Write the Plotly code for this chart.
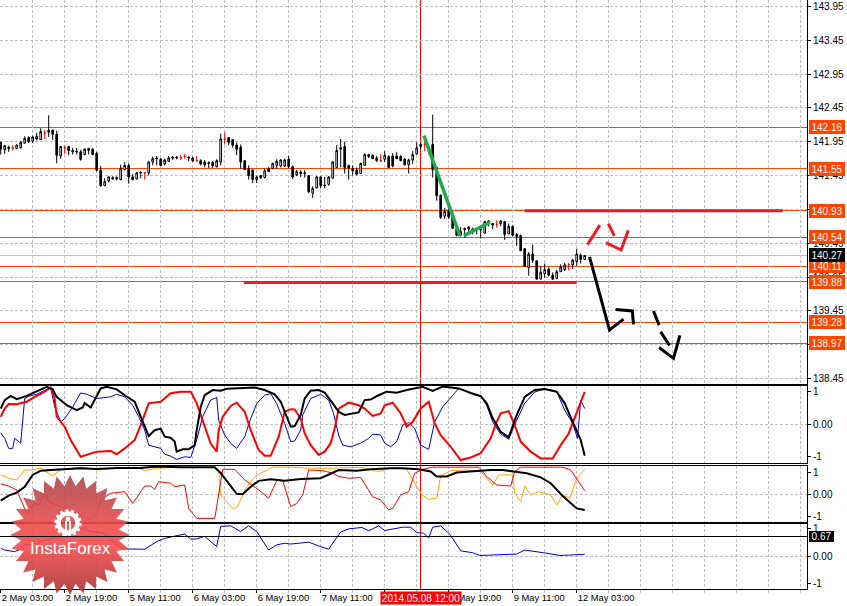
import base64, math
import plotly.graph_objects as go
from plotly.subplots import make_subplots

W, H = 847, 606
AXIS_X = 807
FONT = "Liberation Sans"
FS = 10

# ---- candles (hourly bars, index = bar number) ----
opens = [
141.94,141.83,141.87,141.86,141.85,141.86,141.93,142.01,141.96,142.03,
141.98,142.08,142.12,142.12,142.06,141.74,141.86,141.88,141.82,141.81,
141.80,141.76,141.85,141.84,141.78,141.53,141.30,141.37,141.42,141.42,
141.39,141.54,141.60,141.43,141.40,141.50,141.49,141.49,141.65,141.71,
141.69,141.62,141.66,141.72,141.72,141.71,141.73,141.72,141.71,141.67,
141.67,141.65,141.64,141.65,141.58,141.65,141.99,142.01,141.98,141.90,
141.87,141.67,141.55,141.53,141.39,141.45,141.42,141.55,141.55,141.60,
141.59,141.59,141.69,141.58,141.46,141.50,141.49,141.45,141.19,141.27,
141.43,141.31,141.32,141.41,141.57,141.84,141.88,141.60,141.55,141.53,
141.48,141.60,141.76,141.75,141.71,141.67,141.69,141.73,141.74,141.74,
141.73,141.69,141.61,141.68,141.77,141.91,141.91,141.81,141.91,141.57,
141.16,140.85,140.93,140.84,140.66,140.57,140.65,140.69,140.66,140.66,
140.66,140.60,140.74,140.74,140.73,140.74,140.77,140.59,140.70,140.58,
140.56,140.37,140.09,140.29,140.19,139.92,140.00,140.07,139.98,139.93,
140.03,140.06,140.13,140.13,140.18,140.27,140.21]
highs = [
141.95,141.90,141.89,141.90,141.91,141.96,142.03,142.03,142.04,142.08,
142.15,142.12,142.34,142.13,142.11,141.88,141.89,141.88,141.86,141.86,
141.83,141.85,141.86,141.85,141.80,141.59,141.41,141.44,141.44,141.44,
141.61,141.65,141.63,141.47,141.50,141.51,141.50,141.66,141.73,141.74,
141.71,141.70,141.74,141.74,141.74,141.75,141.77,141.74,141.73,141.74,
141.69,141.68,141.66,141.66,141.69,142.07,142.09,142.02,141.99,141.94,
141.91,141.67,141.60,141.54,141.45,141.46,141.55,141.58,141.64,141.69,
141.69,141.70,141.74,141.60,141.53,141.53,141.53,141.45,141.29,141.44,
141.44,141.43,141.44,141.66,141.90,141.99,141.95,141.61,141.60,141.57,
141.64,141.78,141.77,141.76,141.74,141.77,141.81,141.75,141.78,141.80,
141.75,141.71,141.70,141.81,141.94,141.95,141.95,141.86,142.35,141.57,
141.17,140.97,140.97,140.93,140.68,140.69,140.68,140.70,140.68,140.68,
140.68,140.78,140.79,140.75,140.79,140.79,140.78,140.74,140.71,140.60,
140.58,140.37,140.32,140.43,140.19,140.11,140.15,140.09,140.02,140.06,
140.14,140.16,140.16,140.22,140.37,140.30,140.27]
lows = [
141.76,141.77,141.80,141.82,141.84,141.85,141.92,141.93,141.93,141.97,
141.98,141.99,142.02,141.98,141.63,141.70,141.77,141.75,141.76,141.76,
141.67,141.75,141.76,141.75,141.51,141.28,141.30,141.35,141.39,141.38,
141.38,141.53,141.33,141.38,141.39,141.41,141.39,141.45,141.60,141.60,
141.59,141.60,141.65,141.68,141.69,141.68,141.70,141.66,141.65,141.66,
141.60,141.57,141.56,141.56,141.57,141.60,141.91,141.90,141.86,141.75,
141.55,141.53,141.39,141.34,141.34,141.40,141.41,141.50,141.55,141.55,
141.57,141.58,141.56,141.40,141.44,141.43,141.42,141.19,141.12,141.26,
141.26,141.26,141.30,141.41,141.56,141.57,141.48,141.39,141.45,141.45,
141.47,141.60,141.71,141.69,141.65,141.65,141.65,141.56,141.57,141.69,
141.66,141.60,141.48,141.62,141.76,141.84,141.81,141.76,141.42,141.08,
140.81,140.81,140.81,140.66,140.55,140.55,140.53,140.58,140.58,140.58,
140.52,140.59,140.70,140.66,140.68,140.70,140.50,140.58,140.55,140.41,
140.34,140.10,139.97,140.16,139.92,139.92,139.94,139.96,139.92,139.92,
140.03,140.04,140.05,140.07,140.11,140.15,140.20]
closes = [
141.84,141.89,141.85,141.86,141.90,141.94,142.00,141.95,142.02,141.99,
142.10,142.08,142.09,142.06,141.75,141.88,141.86,141.82,141.80,141.80,
141.69,141.84,141.82,141.76,141.53,141.30,141.36,141.43,141.40,141.40,
141.56,141.60,141.43,141.39,141.49,141.49,141.49,141.65,141.70,141.70,
141.60,141.68,141.71,141.71,141.71,141.71,141.73,141.71,141.67,141.67,
141.62,141.61,141.63,141.60,141.67,141.99,141.99,141.94,141.90,141.84,
141.65,141.54,141.45,141.39,141.43,141.42,141.52,141.51,141.63,141.66,
141.68,141.68,141.58,141.43,141.51,141.48,141.48,141.21,141.26,141.43,
141.30,141.30,141.43,141.65,141.82,141.86,141.57,141.56,141.52,141.47,
141.63,141.76,141.73,141.70,141.67,141.67,141.75,141.57,141.59,141.70,
141.67,141.61,141.68,141.76,141.86,141.88,141.91,141.81,141.54,141.15,
140.83,140.92,140.84,140.67,140.57,140.62,140.67,140.66,140.65,140.65,
140.65,140.77,140.78,140.72,140.73,140.78,140.58,140.70,140.57,140.55,
140.34,140.11,140.29,140.20,139.92,140.02,140.06,139.98,139.92,140.03,
140.10,140.13,140.13,140.20,140.29,140.21,140.27]

# ---- axis text ----
price_ticks = [143.95,143.45,142.95,142.45,141.95,141.45,140.95,140.45,139.95,139.45,138.95,138.45]
date_bars = [0,16,32,48,64,80,96,112,128,144]
date_labels = ["2 May 03:00","2 May 19:00","5 May 11:00","6 May 03:00","6 May 19:00",
               "7 May 11:00","8 May 03:00","8 May 19:00","9 May 11:00","12 May 03:00"]
minor_bars = [8,24,40,56,72,88,104,120,136,152,160,168,176,184,192,200]
cursor_bar = 105
cursor_label = "2014.05.08 12:00"

# ---- horizontal levels ----
orange_levels = [142.16,141.55,140.93,140.54,140.11,139.88,139.28,138.97]
last_price = 140.27

# ---- drawn lines: (bar, price), None = gap ----
green_bars   = [105.8,114.8,None,115.8,122.3]
green_prices = [142.04,140.56,None,140.56,140.76]
red_line_bars   = [131,195.5,None,60.8,144]
red_line_prices = [140.93,140.93,None,139.87,139.87]
red_arrow_bars   = [146.7,149.8,None,151.9,153.4,None,151.3,155.1,156.9]
red_arrow_prices = [140.43,140.72,None,140.74,140.56,None,140.46,140.35,140.64]
black_arrow_bars   = [147.2,152.2,155.7,None,153.7,157.9,158.2,None,163.2,164.6,None,165,167.2,None,164.6,168.2,169.8]
black_arrow_prices = [140.25,139.17,139.33,None,139.47,139.45,139.25,None,139.45,139.24,None,139.14,138.94,None,138.91,138.75,139.09]

# ---- indicator 1 ----
ind1_black_x = [0,1,2.5,4,6.5,8.5,10.5,11.5,13,14,16.5,19,20.5,21,22.5,24,25,26.5,29,31,33.5,35,37,38.5,40,41,42.5,43.5,44,45.5,47,48.5,49,50,51,53,55,56.5,60,63.5,66,68.5,70,71.5,72.5,73.5,75,76,77.5,79.5,81,83,84.5,86,87.5,89.5,91,92.5,94.5,96.5,99,101.5,105.5,108,110.5,114.5,117.5,120,121.5,123,125,127,129,131,133.5,136,139,141,143,145,146]
ind1_black_y = [.49,.75,.88,.78,.88,.99,1.11,1.16,1.08,.85,.59,.44,.52,.66,.52,.90,1.11,1.16,1.08,.90,.70,.24,-.36,-.18,-.13,-.38,-.41,-.53,-.84,-.77,-.77,-.64,-.18,.54,.90,1.06,1.04,1.10,1.13,1.14,1.06,.93,.70,.24,-.07,-.05,.29,.80,1.04,1.06,.98,.65,.39,.29,.32,.37,.75,.77,.90,1.01,.98,1.06,1.16,1.03,1.17,1.11,.97,.87,.65,.19,-.23,-.40,.29,.85,1.06,1.09,1.01,.65,.08,-.48,-.97]
ind1_red_x = [0,1,2,4,6.5,8.5,10.5,12.5,13.5,14,16,17.5,20,21.5,24,27.5,29,31,33.5,35,37,40,42.5,45,47.5,49,50,51,52.5,54,54.5,55.5,57.5,59,61,62.5,64.5,66,67.5,69.5,71,72.5,73.5,75,76,77.5,79.5,81,82.5,83.5,84.5,87,89.5,91,93,95,96,98,100,101.5,103,105,107,108.5,110,112.5,115,117.5,120,122.5,124,125,127,128.5,130,132.5,135,138,140,142,144,146]
ind1_red_y = [.23,.49,.63,.62,.70,.85,.97,1.14,.80,.24,-.07,-.48,-1.0,-.94,-.84,-.82,-.92,-.74,-.48,-.02,.65,.70,.96,1.01,1.01,.65,.29,-.02,-.59,-.84,-.18,.24,.57,.67,.39,-.18,-.79,-.97,-.97,-.38,.39,.47,.46,.18,-.28,-.64,-.94,-.84,-.58,-.12,.49,.67,.59,.49,.26,.34,.59,.67,.34,-.07,.08,.49,.70,.03,-.33,-.69,-1.10,-1.02,-.89,-.43,.08,.34,.41,-.02,-.53,-.84,-1.05,-1.05,-.64,-.28,.39,1.0]
ind1_blue_x = [0,1,2,3,3.5,5,6,7,9,11,12.5,13.5,15,16,18,20,21.5,24,27.5,29,31,33,34.5,36,37,38.5,40,41,42.5,44,46,47.5,49,50.5,52.5,54,54.5,56,57.5,59,61,62.5,64,66,67.5,69,71,72.5,73.5,75,75.5,77.5,80,82,83.2,84.5,85.5,87.5,90,92,93,95,96,97.5,99,100.5,102,103.5,105,107,108.5,110.5,114.5,117.5,120,121.5,123,125,127,129,131,133.5,136,139,141,143,144.2,145,146]
ind1_blue_y = [-.26,-.43,-.74,-.74,-.43,-.58,.80,.87,.93,1.06,1.14,.54,.08,.18,.54,.97,.93,.80,.85,.93,.85,.59,.24,-.17,-.64,-.69,-.74,-.92,-.98,-1.08,-1.0,-1.02,-.48,.24,.75,.83,.13,-.33,-.58,-.74,-.38,.18,.64,.90,.95,.64,.03,-.53,-.51,-.17,.29,.80,.93,.75,.34,-.33,-.64,-.69,-.58,-.43,-.30,-.33,-.58,-.69,-.53,-.02,.06,-.12,-.64,-.77,.08,.54,1.11,.97,.87,.59,.08,-.30,-.45,.13,.65,1.0,1.09,1.01,.44,.03,-.43,.75,.49]

# ---- indicator 2 ----
ind2_black_x = [0,2,4,6,8,10,12.5,16,20,24,29,35,39,45,53.5,55,57,59,60.5,62.5,64.5,67.5,71,72.5,75,80,83,84.5,89,92.5,97.5,100.5,104.5,107.5,109,111.5,114,119,122.5,125.5,128,131.5,135,137.5,140.5,144,146]
ind2_black_y = [-.29,-.06,.08,.35,.89,1.09,1.12,1.15,1.20,1.17,1.21,1.21,1.28,1.25,1.25,.98,.51,.02,0,.35,.62,.69,.62,.66,.71,.74,1.0,1.12,1.09,1.15,1.20,1.20,1.15,1.05,.82,.82,1.0,1.09,1.12,1.12,1.05,.97,.78,.51,-.08,-.65,-.72]
ind2_red_x = [0,2,4,5.5,6.5,8.5,9.5,11,12,14.5,17.5,21,22.5,24,25,27.5,31,33,36,37.5,38.5,39.5,42.5,43.5,46,47,49,53.5,54,55.5,58.5,61,64.5,67,69,70.5,72.5,74,75.5,77,80.5,83,84.5,87,90,93,95,97,98,100,102,103.5,105.5,108,112,119.5,121.5,124,127.5,128.5,130,140.5,142.5,144.5,146]
ind2_red_y = [.48,.38,.20,-.42,-.88,-.42,-.49,.02,-.34,-.54,-.75,-1.03,-1.15,-.88,-.26,.05,.12,-.42,.38,.38,.23,.58,.51,.35,.43,-.65,-1.11,-1.11,-.57,1.15,1.15,.66,.20,-.18,.63,.63,-.57,-.42,-.03,1.12,1.09,.97,.82,.74,.77,-.11,-.26,-.72,-.65,-.03,.12,.97,1.15,1.25,1.25,1.25,.82,.43,.38,1.05,1.25,1.25,1.12,.58,.17]
ind2_orange_x = [0,2,4,6,7.5,10,13,15,20,24,29,34,36,39,45,53.5,54.5,55,57,58,59,61.5,64,68,72.5,77.5,83,90,94.5,98,101.5,103.5,105.3,107,109,110,112.5,116.5,120,121.5,123,124.5,128,128.5,130,131,132.5,134.5,137.5,139,140.5,142.3,144,146]
ind2_orange_y = [.89,.74,.66,1.12,1.12,1.20,.85,1.12,1.25,1.12,1.20,1.25,1.09,1.20,1.25,1.25,1.12,-.03,-.45,-.65,-.62,.35,.89,1.25,1.25,1.20,1.20,1.25,1.05,1.23,1.15,.51,-.03,-.23,-.18,.85,1.09,1.12,1.05,.74,.43,.89,.89,.05,-.34,.38,-.03,.12,-.03,-.49,-.03,-.18,.74,1.15]

# ---- indicator 3 ----
ind3_blue_x = [0,1,3.5,4.5,6,8.5,11,14,16,18,21,22.5,25,26.5,28.5,30.5,36,39,41,43,46,47.5,49,51,54,55,57.5,60,62,64,67,69,71,72.5,75,77,79.5,82,83,85,87,90.3,92,94.5,96,98,100.5,102.5,104,105.7,107,108,110,112.3,115,118,119.8,129,131,135.7,139.8,146]
ind3_blue_y = [.28,.22,.16,.22,.41,.44,.59,.65,.84,.96,1.0,.90,.86,.78,.47,.26,.25,.53,.65,.72,.81,.62,.63,.72,.35,1.09,1.11,.90,1.11,.90,.22,.41,.47,.44,.47,.51,.37,.25,.47,.88,1.0,1.05,.93,1.11,.94,1.0,1.06,1.06,.86,.84,.67,1.06,1.11,.80,.19,.12,.02,.07,.22,.12,.02,.06]
ind3_level_position = 0.73
ind3_level_label = "0.67"

ORANGE = "#FF4500"
GRID = "#C0C0C0"
DASH = "3px,2px"
BLUE = "#0000CD"

# pane pixel geometry: (top, bottom, value_top, value_bottom)
panes = [(0, 384, 143.95 + 6.3/67.7, 143.95 - 377.7/67.7),
         (385.5, 463.3, 1.2, -1.2),
         (465.7, 522.3, 1.318, -1.29),
         (524.3, 588.5, 1.167, -1.196)]

fig = make_subplots(rows=4, cols=1, shared_xaxes=True)

up_down = [i for i in range(len(opens)) if opens[i] != closes[i]]
doji = [i for i in range(len(opens)) if opens[i] == closes[i]]
pick = lambda seq, idx: [seq[i] for i in idx]

fig.add_trace(go.Candlestick(
    x=up_down, open=pick(opens, up_down), high=pick(highs, up_down),
    low=pick(lows, up_down), close=pick(closes, up_down), whiskerwidth=0,
    increasing=dict(fillcolor="white", line=dict(color="black", width=1)),
    decreasing=dict(fillcolor="black", line=dict(color="black", width=1)),
    hoverinfo="skip"), row=1, col=1)
fig.add_trace(go.Candlestick(
    x=doji, open=pick(opens, doji), high=pick(highs, doji),
    low=pick(lows, doji), close=pick(closes, doji), whiskerwidth=0,
    increasing=dict(fillcolor="red", line=dict(color="red", width=1)),
    decreasing=dict(fillcolor="red", line=dict(color="red", width=1)),
    hoverinfo="skip"), row=1, col=1)

def line(x, y, color, width, row):
    fig.add_trace(go.Scatter(x=x, y=y, mode="lines", hoverinfo="skip",
                             line=dict(color=color, width=width)), row=row, col=1)

line(red_line_bars, red_line_prices, "#ED1C24", 3, 1)
line(green_bars, green_prices, "#22A850", 3.5, 1)
line(red_arrow_bars, red_arrow_prices, "#ED1C24", 3, 1)
line(black_arrow_bars, black_arrow_prices, "black", 3, 1)

line(ind1_blue_x, ind1_blue_y, BLUE, 1, 2)
line(ind1_red_x, ind1_red_y, "red", 2, 2)
line(ind1_black_x, ind1_black_y, "black", 2, 2)
line(ind2_orange_x, ind2_orange_y, "#FFA500", 1, 3)
line(ind2_red_x, ind2_red_y, "red", 1, 3)
line(ind2_black_x, ind2_black_y, "black", 2, 3)
line(ind3_blue_x, ind3_blue_y, BLUE, 1, 4)

x_range = [-0.7/4, (AXIS_X - 0.7)/4]
for n in range(1, 5):
    top, bot, vtop, vbot = panes[n-1]
    yname = "yaxis" if n == 1 else f"yaxis{n}"
    xname = "xaxis" if n == 1 else f"xaxis{n}"
    bottom = n == 4
    fig.update_layout({
        xname: dict(
            domain=[0, AXIS_X/W], range=x_range, anchor="y" if n == 1 else f"y{n}",
            automargin=False, tickangle=0,
            tickmode="array", tickvals=date_bars, ticktext=date_labels if bottom else [""]*len(date_bars),
            showticklabels=bottom, ticks="outside" if bottom else "", ticklen=3, tickcolor="black",
            ticklabelposition="outside right",
            tickfont=dict(family=FONT, size=9.4, color="black"),
            showgrid=True, gridcolor=GRID, griddash=DASH, gridwidth=1, zeroline=False,
            showline=True, linecolor="black", linewidth=1, mirror=(n > 1),
            rangeslider=dict(visible=False),
            minor=dict(tickmode="array", tickvals=minor_bars, showgrid=True, gridcolor=GRID,
                       griddash=DASH, gridwidth=1, ticks="outside" if bottom else "",
                       ticklen=3, tickcolor=GRID),
        ),
        yname: dict(
            domain=[1 - bot/H, 1 - top/H], range=[vbot, vtop], side="right",
            anchor="x" if n == 1 else f"x{n}",
            tickmode="array",
            tickvals=price_ticks if n == 1 else [1, 0, -1],
            ticktext=[f"{p:.2f}" for p in price_ticks] if n == 1 else ["1", "0.00", "-1"],
            tickfont=dict(family=FONT, size=FS, color="black"),
            ticks="outside", ticklen=3, tickcolor="black",
            showgrid=(n == 1), gridcolor=GRID, griddash=DASH, gridwidth=1, zeroline=False,
            showline=True, linecolor="black", linewidth=1, automargin=False,
        ),
    })

shapes = []
annotations = []
xp = AXIS_X / W

def box(y, yref, text, bg, x0=809, w=36, h=14):
    annotations.append(dict(x=x0/W, xref="paper", y=y, yref=yref, xanchor="left", yanchor="middle",
                            text=text, showarrow=False, bgcolor=bg, width=w, height=h, borderpad=0,
                            borderwidth=0, align="center",
                            font=dict(family=FONT, size=FS, color="white")))

for lv in orange_levels:
    shapes.append(dict(type="line", xref="paper", x0=0, x1=xp, yref="y", y0=lv, y1=lv,
                       line=dict(color=ORANGE, width=1), layer="below"))
    box(lv, "y", f"{lv:.2f}", ORANGE)
shapes.append(dict(type="line", xref="paper", x0=0, x1=xp, yref="y", y0=last_price, y1=last_price,
                   line=dict(color="#C0C0C0", width=1), layer="below"))
box(last_price, "y", f"{last_price:.2f}", "black")

for yref in ["y2", "y3", "y4"]:
    shapes.append(dict(type="line", xref="paper", x0=0, x1=xp, yref=yref, y0=0, y1=0,
                       line=dict(color=GRID, width=1, dash=DASH), layer="below"))
shapes.append(dict(type="line", xref="paper", x0=0, x1=xp, yref="y4",
                   y0=ind3_level_position, y1=ind3_level_position, line=dict(color="black", width=1)))
box(ind3_level_position, "y4", ind3_level_label, "black", w=25, h=11)

shapes.append(dict(type="line", xref="x", x0=cursor_bar, x1=cursor_bar, yref="paper",
                   y0=1 - 589/H, y1=1, line=dict(color="red", width=1), layer="below"))
annotations.append(dict(x=cursor_bar, xref="x", y=1 - 597.5/H, yref="paper", xanchor="center", yanchor="middle",
                        text=cursor_label, showarrow=False, bgcolor="red", width=80, height=12, borderpad=0,
                        font=dict(family=FONT, size=FS, color="white")))

# ---- watermark badge: semi-transparent star with a logo ----
S = 124
pts = []
SPIKES = 28
for k in range(SPIKES * 2):
    r = 60 if k % 2 == 0 else 49
    a = math.pi * k / SPIKES
    pts.append(f"{S/2 + r*math.sin(a):.1f},{S/2 - r*math.cos(a):.1f}")
svg = f'''<svg xmlns="http://www.w3.org/2000/svg" width="{S}" height="{S}" viewBox="0 0 {S} {S}">
<defs><linearGradient id="g" x1="0" y1="0" x2="0" y2="1">
<stop offset="0" stop-color="#A8484E"/><stop offset="0.45" stop-color="#F24C4C"/>
<stop offset="0.6" stop-color="#F24C4C"/><stop offset="1" stop-color="#A83232"/></linearGradient></defs>
<polygon points="{' '.join(pts)}" fill="url(#g)" fill-opacity="0.9"/>
<g transform="translate(60,50)" fill="none" stroke="white">
<circle r="9.5" stroke-width="4.5"/><circle r="12.5" stroke-width="2.5" stroke-dasharray="3,2.6"/>
<g stroke="none" fill="white"><circle cy="-4" r="2.4"/><rect x="-3" y="-2" width="2" height="15"/><rect x="1" y="-2" width="2" height="15"/></g>
</g></svg>'''
uri = "data:image/svg+xml;base64," + base64.b64encode(svg.encode()).decode()
fig.add_layout_image(dict(source=uri, xref="paper", yref="paper", x=8/W, y=1 - 473/H,
                          sizex=S/W, sizey=S/H, xanchor="left", yanchor="top",
                          sizing="stretch", layer="above"))
annotations.append(dict(x=70/W, xref="paper", y=1 - 548/H, yref="paper", xanchor="center", yanchor="middle",
                        text="InstaForex", showarrow=False,
                        font=dict(family="Liberation Sans", size=17, color="white")))

fig.update_layout(width=W, height=H, margin=dict(l=0, r=0, t=0, b=0), autosize=False,
                  paper_bgcolor="white", plot_bgcolor="white", showlegend=False,
                  boxgap=0.4, shapes=shapes, annotations=annotations)

fig.write_html("out.html", config={"displayModeBar": False},
               post_script="document.body.style.margin='0';document.body.style.overflow='hidden';"
                           "var st=document.createElement('style');"
                           "st.textContent='.shapelayer path{shape-rendering:crispEdges}';"
                           "document.head.appendChild(st);")
